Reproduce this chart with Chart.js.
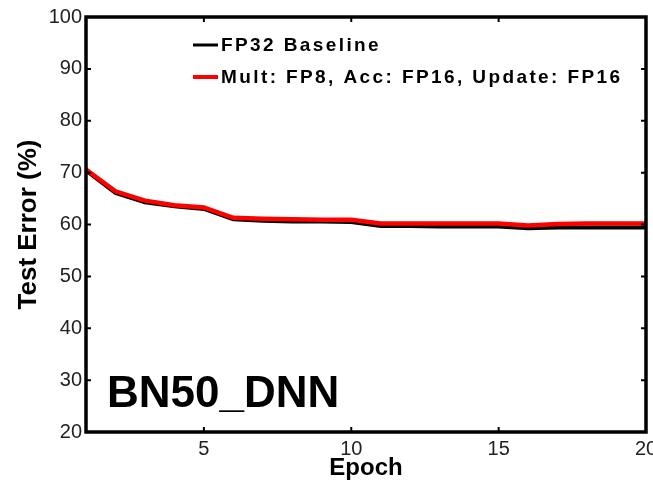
<!DOCTYPE html>
<html>
<head>
<meta charset="utf-8">
<script src="https://cdn.jsdelivr.net/npm/chart.js@4/dist/chart.umd.min.js"></script>
<style>
  html, body { margin: 0; padding: 0; background: #fff; }
  #c { display: block; }
</style>
</head>
<body>
<canvas id="c" width="653" height="484"></canvas>
<script>
const epochs = [1,2,3,4,5,6,7,8,9,10,11,12,13,14,15,16,17,18,19,20];
const baselineFP32 = [70.4,66.1,64.3,63.5,63.0,61.0,60.7,60.6,60.6,60.5,59.7,59.7,59.6,59.6,59.6,59.3,59.4,59.4,59.4,59.4];
const fp8Mixed     = [70.6,66.4,64.6,63.7,63.3,61.3,61.1,61.0,60.9,60.9,60.2,60.2,60.2,60.2,60.2,59.8,60.1,60.2,60.2,60.2];
const seriesLabels = ['FP32 Baseline', 'Mult: FP8, Acc: FP16, Update: FP16'];
const xTickValues = [5, 10, 15, 20];
const yTickValues = [20, 30, 40, 50, 60, 70, 80, 90, 100];
const panelLabel = 'BN50_DNN';

const toPts = arr => epochs.map((e, i) => ({x: e, y: arr[i]}));

const framePlugin = {
  id: 'frame',
  afterDatasetsDraw(chart) {
    const {ctx, chartArea: a, scales: {x, y}} = chart;
    ctx.save();
    ctx.strokeStyle = '#000';
    ctx.lineWidth = 3.5;
    ctx.strokeRect(a.left, a.top, a.right - a.left, a.bottom - a.top);
    ctx.lineWidth = 2;
    const tl = 5;
    ctx.beginPath();
    xTickValues.forEach(v => {
      const px = x.getPixelForValue(v);
      ctx.moveTo(px, a.bottom); ctx.lineTo(px, a.bottom - tl);
      ctx.moveTo(px, a.top); ctx.lineTo(px, a.top + tl);
    });
    yTickValues.forEach(v => {
      const py = y.getPixelForValue(v);
      ctx.moveTo(a.left, py); ctx.lineTo(a.left + tl, py);
      ctx.moveTo(a.right, py); ctx.lineTo(a.right - tl, py);
    });
    ctx.stroke();

    // legend inside plot
    const lx0 = 193, lx1 = 218, tx = 221;
    const rows = [45, 77];
    chart.data.datasets.forEach((ds, i) => {
      const yy = rows[i];
      ctx.strokeStyle = ds.borderColor;
      ctx.lineWidth = i === 0 ? 3 : 4;
      ctx.beginPath();
      ctx.moveTo(lx0, yy); ctx.lineTo(lx1, yy);
      ctx.stroke();
      ctx.fillStyle = '#000';
      ctx.font = 'bold 19px "Liberation Sans", Arial, sans-serif';
      ctx.letterSpacing = '2.4px';
      ctx.textBaseline = 'middle';
      ctx.textAlign = 'left';
      ctx.fillText(ds.label, tx, yy + 1);
    });
    ctx.letterSpacing = '0px';

    // panel label
    ctx.font = 'bold 44px "Liberation Sans", Arial, sans-serif';
    ctx.textBaseline = 'alphabetic';
    ctx.fillStyle = '#000';
    ctx.fillText(panelLabel, 107, 407);
    ctx.restore();
  }
};

new Chart(document.getElementById('c'), {
  type: 'line',
  data: {
    datasets: [
      { label: seriesLabels[0], data: toPts(baselineFP32), borderColor: '#000000', borderWidth: 4, pointRadius: 0, tension: 0, order: 1 },
      { label: seriesLabels[1], data: toPts(fp8Mixed), borderColor: '#ff0000', borderWidth: 4.5, pointRadius: 0, tension: 0, order: 0 }
    ]
  },
  options: {
    responsive: false,
    animation: false,
    devicePixelRatio: 1,
    layout: { padding: { top: 17, right: 7, left: 0, bottom: 0 } },
    plugins: { legend: { display: false }, tooltip: { enabled: false } },
    scales: {
      x: {
        type: 'linear', min: 1, max: 20,
        grid: { display: false, drawTicks: false },
        border: { display: false },
        afterBuildTicks: s => { s.ticks = xTickValues.map(v => ({value: v})); },
        afterFit: s => { s.height = 52; s.paddingLeft = 0; s.paddingRight = 0; },
        ticks: { autoSkip: false, maxRotation: 0, padding: 5, color: '#222',
                 font: { family: '"Liberation Sans", Arial, sans-serif', size: 20 } },
        title: { display: true, text: 'Epoch', color: '#000',
                 font: { family: '"Liberation Sans", Arial, sans-serif', size: 24, weight: 'bold', lineHeight: 1.2 },
                 padding: { top: 0, bottom: 1 } }
      },
      y: {
        min: 20, max: 100,
        grid: { display: false, drawTicks: false },
        border: { display: false },
        afterBuildTicks: s => { s.ticks = yTickValues.map(v => ({value: v})); },
        afterFit: s => { s.width = 86; s.paddingTop = 0; s.paddingBottom = 0; },
        ticks: { padding: 4, color: '#222',
                 font: { family: '"Liberation Sans", Arial, sans-serif', size: 20 } },
        title: { display: true, text: 'Test Error (%)', color: '#000',
                 font: { family: '"Liberation Sans", Arial, sans-serif', size: 26, weight: 'bold', lineHeight: 1.2 },
                 padding: { top: 13, bottom: 0 } }
      }
    }
  },
  plugins: [framePlugin]
});
</script>
</body>
</html>
